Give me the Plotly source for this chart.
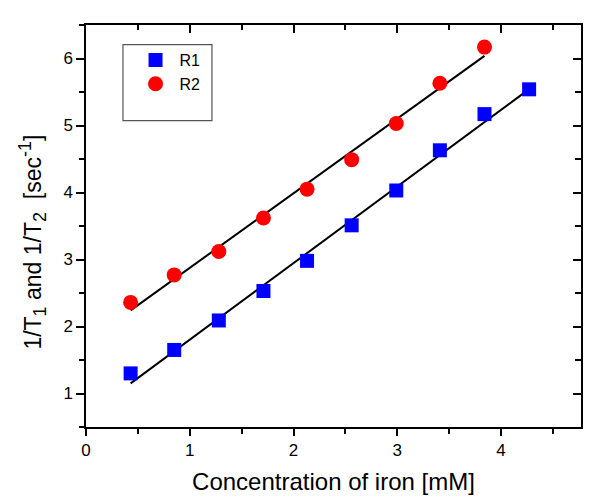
import numpy as np
import plotly.graph_objects as go

# Data
conc_r1 = [0.43, 0.85, 1.28, 1.71, 2.13, 2.56, 2.99, 3.41, 3.84, 4.27]
rate_r1 = [1.30, 1.65, 2.09, 2.53, 2.98, 3.51, 4.03, 4.63, 5.17, 5.54]
conc_r2 = [0.43, 0.85, 1.28, 1.71, 2.13, 2.56, 2.99, 3.41, 3.84]
rate_r2 = [2.36, 2.77, 3.12, 3.62, 4.05, 4.49, 5.03, 5.63, 6.17]
x_ticks = [0, 1, 2, 3, 4]
y_ticks = [1, 2, 3, 4, 5, 6]
x_range = [0, 4.77]
y_range = [0.5, 6.5]

FONT = "Liberation Sans, Arial, sans-serif"

# linear fits of the data
p1 = np.polyfit(conc_r1, rate_r1, 1)
p2 = np.polyfit(conc_r2, rate_r2, 1)
fit_x1 = [min(conc_r1), max(conc_r1)]
fit_x2 = [min(conc_r2), max(conc_r2)]

fig = go.Figure()
fig.add_trace(go.Scatter(x=fit_x1, y=list(np.polyval(p1, fit_x1)), mode="lines",
                         line=dict(color="black", width=2), showlegend=False, hoverinfo="skip"))
fig.add_trace(go.Scatter(x=fit_x2, y=list(np.polyval(p2, fit_x2)), mode="lines",
                         line=dict(color="black", width=2), showlegend=False, hoverinfo="skip"))
fig.add_trace(go.Scatter(x=conc_r1, y=rate_r1, mode="markers", name="R1",
                         marker=dict(symbol="square", size=14, color="#0000FF", line=dict(width=0))))
fig.add_trace(go.Scatter(x=conc_r2, y=rate_r2, mode="markers", name="R2",
                         marker=dict(symbol="circle", size=15, color="#FF0000", line=dict(width=0))))
# invisible trace so the mirror (inside-tick) axes are drawn
fig.add_trace(go.Scatter(x=[x_range[0]], y=[y_range[0]], xaxis="x2", yaxis="y2", mode="markers",
                         marker=dict(opacity=0), showlegend=False, hoverinfo="skip"))

axis_common = dict(showgrid=False, zeroline=False, linecolor="black", linewidth=1.5,
                   tickcolor="black", tickwidth=1.5)

ytitle = ("1/T<sub><span style=\"font-size:18px\">1</span></sub> and "
          "1/T<sub><span style=\"font-size:18px\">2</span></sub>&nbsp; "
          "[sec<sup><span style=\"font-size:18px\">-1</span></sup>]")

fig.update_layout(
    width=600, height=500,
    margin=dict(l=78, r=27, t=17, b=81),
    paper_bgcolor="white", plot_bgcolor="white",
    font=dict(family=FONT, color="black", size=17),
    xaxis=dict(range=x_range, tickvals=x_ticks, ticks="outside", ticklen=7, mirror=True,
               showline=True, minor=dict(dtick=0.5, tick0=0, ticks="outside", ticklen=5,
                                         tickcolor="black", tickwidth=1.5),
               title=dict(text="Concentration of iron [mM]", font=dict(size=24), standoff=14),
               tickfont=dict(size=17), **axis_common),
    yaxis=dict(range=y_range, tickvals=y_ticks, ticks="outside", ticklen=8, mirror=True,
               showline=True, minor=dict(dtick=0.5, tick0=0.5, ticks="outside", ticklen=5,
                                         tickcolor="black", tickwidth=1.5),
               tickfont=dict(size=17), **axis_common),
    xaxis2=dict(range=x_range, overlaying="x", side="top", anchor="y", tickvals=x_ticks,
                ticks="inside", ticklen=8, showticklabels=False, showline=False,
                minor=dict(dtick=0.5, tick0=0, ticks="inside", ticklen=5,
                           tickcolor="black", tickwidth=1.5),
                showgrid=False, zeroline=False, tickcolor="black", tickwidth=1.5),
    yaxis2=dict(range=y_range, overlaying="y", side="right", anchor="x", tickvals=y_ticks,
                ticks="inside", ticklen=8, showticklabels=False, showline=False,
                minor=dict(dtick=0.5, tick0=0.5, ticks="inside", ticklen=6,
                           tickcolor="black", tickwidth=1.5),
                showgrid=False, zeroline=False, tickcolor="black", tickwidth=1.5),
    legend=dict(x=0.092, y=0.955, xanchor="left", yanchor="top", bgcolor="rgba(0,0,0,0)",
                borderwidth=0, font=dict(size=16), itemwidth=38, tracegroupgap=0),
    shapes=[dict(type="rect", xref="paper", yref="paper", x0=0.0747, x1=0.2545,
                 y0=0.762, y1=0.951, line=dict(color="#555555", width=1.2),
                 fillcolor="rgba(0,0,0,0)", layer="below")],
    annotations=[dict(text=ytitle,
                      xref="paper", yref="paper", x=-0.108, y=0.46, xanchor="center",
                      yanchor="middle", textangle=-90, showarrow=False,
                      font=dict(size=23, family=FONT, color="black"))],
)

fig.write_html("out.html")
